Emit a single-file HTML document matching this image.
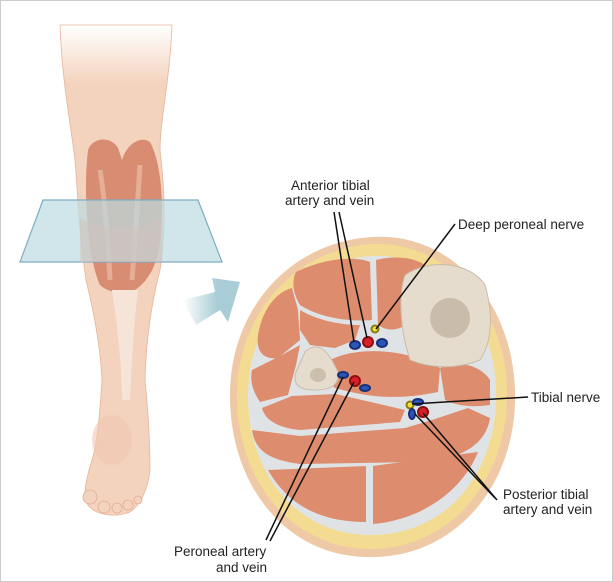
<!DOCTYPE html>
<html><head><meta charset="utf-8"><style>
html,body{margin:0;padding:0;background:#fff}
svg{display:block}
text{font-family:"Liberation Sans",sans-serif;font-size:13.5px;fill:#222}
</style></head><body>
<svg width="613" height="582" viewBox="0 0 613 582">
<defs>
<linearGradient id="fade" x1="0" y1="0" x2="0" y2="1"><stop offset="0" stop-color="#fff"/><stop offset="0.12" stop-color="#f4d3be"/></linearGradient>
<linearGradient id="arr" x1="0" y1="0" x2="1" y2="0"><stop offset="0" stop-color="#fff"/><stop offset="0.6" stop-color="#a9cdd6"/></linearGradient>
</defs>
<rect x="0.5" y="0.5" width="612" height="581" fill="#fff" stroke="#ccc"/>
<!-- leg -->
<path d="M60 25 L172 25 C170 80 160 120 160 150 C165 190 166 230 160 270 C152 300 146 340 145 380 C148 410 150 440 150 470 C148 490 140 505 130 512 C115 518 95 515 88 505 C82 495 86 480 92 460 C98 440 100 410 102 380 C100 340 92 305 86 280 C80 240 78 200 75 160 C70 120 62 80 60 25Z" fill="url(#fade)" stroke="#e6b49a" stroke-width="0.8"/>
<path d="M88 150 C92 138 110 135 118 148 L122 160 C126 145 140 135 150 142 C160 160 165 200 160 240 C158 262 150 280 135 290 C125 294 110 294 100 285 C90 265 82 200 88 150Z" fill="#d88d72"/>
<path d="M100 170 C105 200 108 240 110 280 M140 165 C138 200 135 240 132 280" stroke="#eab6a0" stroke-width="5" fill="none" opacity="0.8"/>
<path d="M112 290 C118 330 122 370 122 400 L130 400 C132 360 134 320 138 290Z" fill="#f7e4d8"/>
<ellipse cx="112" cy="440" rx="20" ry="25" fill="#f0c7b0" opacity="0.6"/>
<g fill="#f4d3be" stroke="#e2ad93" stroke-width="0.8">
<circle cx="90" cy="497" r="7"/><circle cx="104" cy="507" r="6"/><circle cx="117" cy="508" r="5"/><circle cx="128" cy="505" r="5"/><circle cx="138" cy="500" r="4"/>
</g>
<!-- glass plane -->
<polygon points="43,200 198,200 222,262 20,262" fill="#bcdbe2" fill-opacity="0.7" stroke="#7fadc0" stroke-width="1.2"/>
<path d="M80 218 C100 232 140 232 162 218 L162 262 L80 262Z" fill="#cfc3bd" opacity="0.55"/>
<!-- arrow -->
<polygon points="183,300 215,292 212,278 240,282 228,322 220,310 196,325" fill="url(#arr)"/>
<!-- cross-section -->
<path d="M372 237 C450 232 512 300 515 390 C518 480 460 555 375 557 C290 560 232 490 230 400 C228 310 290 242 372 237Z" fill="#efc9a6"/>
<path d="M372 244 C445 241 505 305 507 390 C509 475 455 546 375 549 C295 551 239 485 237 400 C235 315 295 249 372 244Z" fill="#f3dc92"/>
<path d="M372 256 C440 253 494 312 496 390 C498 468 452 532 375 535 C300 537 250 478 248 400 C246 320 302 260 372 256Z" fill="#dfe3e6"/>
<g fill="#de8c6e">
<path d="M296 272 C325 258 355 256 370 262 L372 320 C350 322 320 318 300 305 C292 292 292 280 296 272Z"/>
<path d="M376 260 C396 255 415 258 425 265 L405 325 C395 332 385 330 378 325Z"/>
<path d="M258 335 C262 310 276 292 292 288 L298 310 L300 340 L278 358 C262 360 256 350 258 335Z"/>
<path d="M252 370 L282 355 L300 345 L296 365 L288 395 L260 402 C252 390 250 380 252 370Z"/>
<path d="M300 310 C320 322 345 325 360 325 L355 340 L335 348 L310 345 L300 330Z"/>
<path d="M330 360 C360 345 410 350 440 368 L438 392 C400 400 370 398 335 388 C325 378 325 368 330 360Z"/>
<path d="M440 368 C460 360 480 365 490 380 L490 405 C470 408 455 405 445 400Z"/>
<path d="M262 408 L292 396 L336 394 L405 410 L400 422 L300 430 C278 428 265 420 262 408Z"/>
<path d="M252 430 L300 436 L405 428 L432 420 L468 408 L490 418 C486 445 460 460 420 462 L300 464 C268 460 255 450 252 430Z"/>
<path d="M268 470 L366 466 L366 522 C320 522 288 505 268 470Z"/>
<path d="M373 466 L478 452 C462 492 420 520 373 524Z"/>
</g>
<path d="M405 275 C430 258 470 262 485 285 C495 320 490 345 480 360 C455 370 430 368 410 360 C400 330 398 295 405 275Z" fill="#e6dccd" stroke="#c9bba8"/>
<ellipse cx="450" cy="318" rx="20" ry="20" fill="#a89480" opacity="0.45"/>
<path d="M305 352 C318 340 328 350 338 372 C340 385 330 390 315 390 C300 390 292 385 296 372Z" fill="#e6dccd" stroke="#c9bba8"/>
<ellipse cx="318" cy="375" rx="8" ry="7" fill="#a89480" opacity="0.4"/>
<!-- vessels -->
<g stroke-width="2">
<ellipse cx="355" cy="345" rx="5" ry="4" fill="#2a56b5" stroke="#1a2f7a"/>
<circle cx="368" cy="342" r="5" fill="#d81f2a" stroke="#8a1010"/>
<circle cx="375" cy="329" r="3.5" fill="#f2e23a" stroke="#8a7a10"/>
<ellipse cx="382" cy="343" rx="5" ry="4" fill="#2a56b5" stroke="#1a2f7a"/>
<ellipse cx="343" cy="375" rx="5" ry="3" fill="#2a56b5" stroke="#1a2f7a"/>
<circle cx="355" cy="381" r="5" fill="#d81f2a" stroke="#8a1010"/>
<ellipse cx="365" cy="388" rx="5" ry="3" fill="#2a56b5" stroke="#1a2f7a"/>
<circle cx="410" cy="405" r="3.5" fill="#f2e23a" stroke="#8a7a10"/>
<ellipse cx="418" cy="402" rx="5" ry="3" fill="#2a56b5" stroke="#1a2f7a"/>
<circle cx="423" cy="412" r="5" fill="#d81f2a" stroke="#8a1010"/>
<ellipse cx="412" cy="414" rx="3" ry="5" fill="#2a56b5" stroke="#1a2f7a"/>
</g>
<!-- leader lines -->
<g stroke="#111" stroke-width="1.5" fill="none">
<line x1="334" y1="212" x2="354" y2="342"/>
<line x1="339" y1="212" x2="367" y2="338"/>
<line x1="455" y1="224" x2="376" y2="329"/>
<line x1="528" y1="397" x2="412" y2="404"/>
<line x1="495" y1="498" x2="415" y2="414"/>
<line x1="497" y1="500" x2="423" y2="413"/>
<line x1="266" y1="540" x2="343" y2="377"/>
<line x1="270" y1="541" x2="354" y2="382"/>
</g>
<text x="291" y="190">Anterior tibial</text>
<text x="285" y="205">artery and vein</text>
<text x="458" y="229">Deep peroneal nerve</text>
<text x="531" y="402">Tibial nerve</text>
<text x="503" y="499">Posterior tibial</text>
<text x="503" y="514">artery and vein</text>
<text x="174" y="556">Peroneal artery</text>
<text x="216" y="572">and vein</text>
</svg>
</body></html>
